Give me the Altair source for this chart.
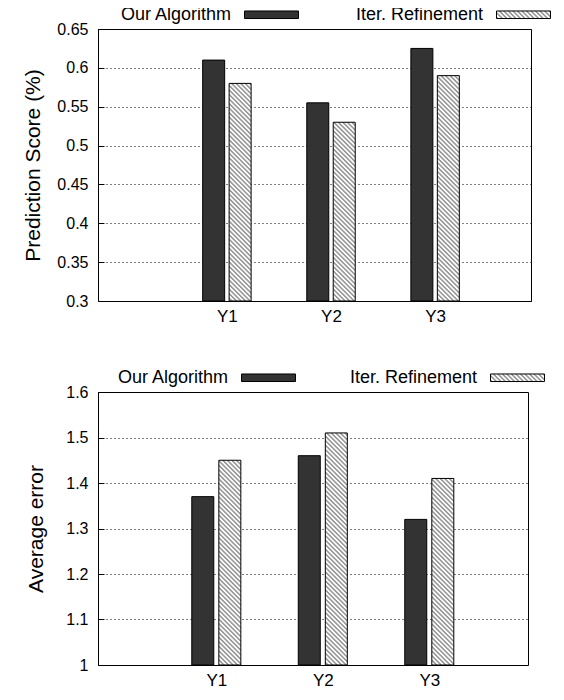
import json
import altair as alt
import pandas as pd
import jinja2
from altair.utils import html as alt_html

# ---------------- data ----------------
categories = ["Y1", "Y2", "Y3"]
series = ["Our Algorithm", "Iter. Refinement"]
score_ours = [0.61, 0.555, 0.625]
score_iter = [0.58, 0.53, 0.59]
error_ours = [1.37, 1.46, 1.32]
error_iter = [1.45, 1.51, 1.41]
score_ticks = [0.3, 0.35, 0.4, 0.45, 0.5, 0.55, 0.6, 0.65]
error_ticks = [1.0, 1.1, 1.2, 1.3, 1.4, 1.5, 1.6]

FONT = "Liberation Sans"
BAR_PATH = "M-1,-0.14L1,-0.14L1,0.14L-1,0.14Z"
VIEW = alt.ViewBackground(stroke="#000", strokeWidth=1, fill="white")


def build_frame(ours, iters):
    rows = []
    for ci, cat in enumerate(categories):
        for si, vals in enumerate([ours, iters]):
            rows.append({"category": cat, "ci": ci, "series": series[si],
                         "si": si, "value": vals[ci]})
    return pd.DataFrame(rows)


def panel(df, y_title, y_domain, y_ticks, x_domain, legend_x, col_pad, title_pad):
    x_axis = alt.Axis(values=list(range(len(categories))),
                      labelExpr=json.dumps(categories) + "[datum.value]",
                      title=None, ticks=False, domain=False, grid=False,
                      labelFont=FONT, labelFontSize=17, labelColor="#000",
                      labelPadding=7)
    y_axis = alt.Axis(values=y_ticks, format="~g", title=y_title,
                      offset=-6, ticks=True, tickSize=6, tickColor="#000",
                      tickWidth=1, domain=False, grid=True, gridColor="#000",
                      gridDash=[1, 3], gridWidth=1,
                      labelFont=FONT, labelFontSize=16, labelColor="#000",
                      labelPadding=10, titleFont=FONT, titleFontSize=21,
                      titleFontWeight="normal", titleColor="#000",
                      titlePadding=title_pad)
    legend = alt.Legend(orient="none", legendX=legend_x, legendY=-42,
                        direction="horizontal", title=None,
                        symbolType=BAR_PATH, symbolSize=2916,
                        symbolStrokeColor="#000", symbolStrokeWidth=1,
                        symbolOpacity=1, labelFont=FONT, labelFontSize=18,
                        labelColor="#000", labelAlign="right",
                        labelOffset={"expr": "-68"}, columnPadding=col_pad,
                        labelLimit=400)
    return (
        alt.Chart(df)
        .transform_calculate(pos="datum.ci + (datum.si - 0.5) * 0.254")
        .mark_bar(size=22, stroke="#000", strokeWidth=1, orient="vertical")
        .encode(
            x=alt.X("pos:Q", scale=alt.Scale(domain=x_domain, nice=False, zero=False),
                    axis=x_axis),
            y=alt.Y("value:Q", scale=alt.Scale(domain=y_domain, nice=False, zero=False),
                    axis=y_axis),
            y2=alt.datum(y_domain[0]),
            fill=alt.Fill("series:N",
                          scale=alt.Scale(domain=series,
                                          range=["#333333", "url(#hatch)"]),
                          legend=legend),
        )
    )


top = panel(build_frame(score_ours, score_iter), "Prediction Score (%)",
            [0.3, 0.65], score_ticks, [-1.19, 2.873], 146, 54, 13
            ).properties(width=433, height=272, view=VIEW)

bottom = panel(build_frame(error_ours, error_iter), "Average error",
               [1.0, 1.6], error_ticks, [-1.064, 2.88], 143, 51, 19
               ).properties(width=430, height=273, view=VIEW)

chart = (
    alt.vconcat(top, bottom, spacing=24)
    .resolve_scale(x="independent", y="independent", fill="independent")
    .resolve_legend(fill="independent")
    .properties(padding={"left": 14, "top": -22, "right": 0, "bottom": 0})
    .configure(font=FONT, background="white")
    .configure_view(stroke="#000", strokeWidth=1)
)

# hatch pattern definition placed in the page so that fill "url(#hatch)" resolves
DEFS = ('<svg width="0" height="0" style="position:absolute;width:0;height:0;overflow:hidden" aria-hidden="true">'
        '<defs><pattern id="hatch" patternUnits="userSpaceOnUse" width="3.2" height="3.2" '
        'patternTransform="rotate(-45)">'
        '<rect x="0" y="0" width="3.2" height="3.2" fill="#ffffff"/>'
        '<line x1="1.6" y1="-1" x2="1.6" y2="4.2" stroke="#333333" stroke-width="0.8"/>'
        '</pattern></defs></svg>')

_base_template = alt_html.TEMPLATES["standard"]


class HatchTemplate(jinja2.Template):
    def render(self, *args, **kwargs):
        page = _base_template.render(*args, **kwargs)
        if "<body>" in page:
            return page.replace("<body>", "<body>\n" + DEFS, 1)
        return page.replace("<div", DEFS + "<div", 1)


chart.save("out.html", embed_options={"renderer": "svg", "actions": False},
           template=HatchTemplate(""))
